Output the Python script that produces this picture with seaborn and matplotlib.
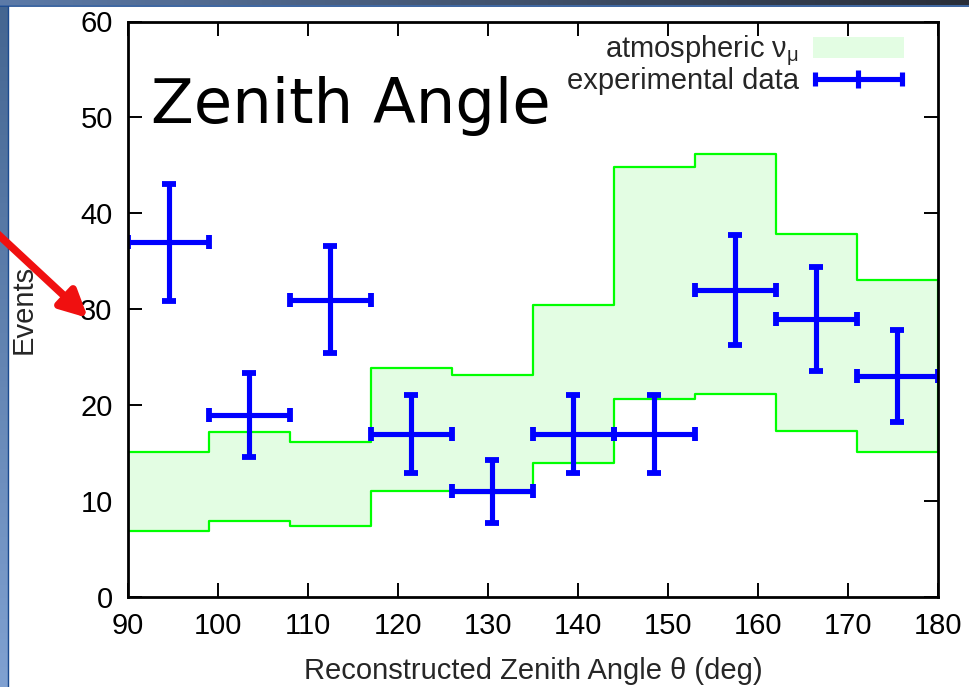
import numpy as np
import matplotlib
matplotlib.use("Agg")
import matplotlib.pyplot as plt
import seaborn as sns
import pandas as pd
from matplotlib.patches import Patch
from matplotlib.legend_handler import HandlerErrorbar

# ---- data ----
bin_edges = [90, 99, 108, 117, 126, 135, 144, 153, 162, 171, 180]
mc_upper = [15.1, 17.2, 16.2, 23.9, 23.1, 30.4, 44.8, 46.2, 37.8, 33.0]
mc_lower = [6.9, 7.9, 7.4, 11.0, 10.8, 14.0, 20.6, 21.2, 17.3, 15.1]
data_x = [94.5, 103.5, 112.5, 121.5, 130.5, 139.5, 148.5, 157.5, 166.5, 175.5]
data_y = [37, 19, 31, 17, 11, 17, 17, 32, 29, 23]
data_yerr = [6.1, 4.4, 5.6, 4.1, 3.3, 4.1, 4.1, 5.7, 5.4, 4.8]
data_xerr = [4.5, 4.5, 4.5, 4.5, 4.5, 4.5, 4.5, 4.5, 4.5, 4.5]
x_ticks = [90, 100, 110, 120, 130, 140, 150, 160, 170, 180]
y_ticks = [0, 10, 20, 30, 40, 50, 60]

sns.set_theme(style="ticks")
plt.rcParams['font.family'] = ['Liberation Sans', 'DejaVu Sans']
plt.rcParams['mathtext.fontset'] = 'custom'
plt.rcParams['mathtext.rm'] = 'Liberation Sans'
plt.rcParams['mathtext.it'] = 'Liberation Sans'

W, H = 970, 687
fig = plt.figure(figsize=(W / 100, H / 100), dpi=100, facecolor='white')

# slide background strips
bg = fig.add_axes([0, 0, 1, 1], zorder=-5)
bg.set_xlim(0, W); bg.set_ylim(H, 0); bg.axis('off')
left_grad = np.linspace(0, 1, 100)[:, None]
left_cols = np.array([[0.27, 0.40, 0.57]]) * (1 - left_grad) + np.array([[0.50, 0.63, 0.82]]) * left_grad
bg.imshow(left_cols[:, None, :], extent=[0, 8, H, 6], aspect='auto')
top_grad = np.linspace(0, 1, 200)[None, :]
top_cols = (np.array([0.36, 0.48, 0.66])[None, None, :] * (1 - top_grad[..., None]) +
            np.array([0.16, 0.18, 0.22])[None, None, :] * top_grad[..., None])
bg.imshow(top_cols, extent=[0, W, 5, 0], aspect='auto')
bg.plot([0, W], [5.5, 5.5], color='#1a4a90', lw=1.2)
bg.plot([8, 8], [6, H], color='#1a4a90', lw=1.0)

# main axes
ax = fig.add_axes([128 / W, 1 - 597 / H, (938 - 128) / W, (597 - 21.5) / H])
ax.set_facecolor('white')

upper_ext = mc_upper + [mc_upper[-1]]
lower_ext = mc_lower + [mc_lower[-1]]
df = pd.DataFrame({'angle': bin_edges, 'upper': upper_ext, 'lower': lower_ext})

ax.fill_between(bin_edges, lower_ext, upper_ext, step='post',
                facecolor='#e3fde3', edgecolor='none', zorder=1)
sns.lineplot(data=df, x='angle', y='upper', drawstyle='steps-post',
             color='#00ff00', lw=1.6, ax=ax, zorder=2)
sns.lineplot(data=df, x='angle', y='lower', drawstyle='steps-post',
             color='#00ff00', lw=1.6, ax=ax, zorder=2)
ax.vlines([bin_edges[0], bin_edges[-1]], [mc_lower[0], mc_lower[-1]],
          [mc_upper[0], mc_upper[-1]], color='#00ff00', lw=1.6, zorder=2)

ax.errorbar(data_x, data_y, xerr=data_xerr, yerr=data_yerr, fmt='none',
            ecolor='#0000ff', elinewidth=3.7, capsize=5, capthick=4.2, zorder=3)

ax.set_xlim(90, 180)
ax.set_ylim(0, 60)
ax.set_xticks(x_ticks)
ax.set_yticks(y_ticks)
ax.tick_params(direction='in', length=10, width=1.4, top=True, right=True,
               labelsize=21, pad=11, colors='black')
for s in ax.spines.values():
    s.set_linewidth(2.0)
    s.set_color('black')
    s.set_visible(True)
    s.set_zorder(4)

ax.set_xlabel('Reconstructed Zenith Angle θ (deg)', fontsize=21)
ax.set_ylabel('Events', fontsize=21)
ax.xaxis.set_label_coords(0.5, -0.104)
ax.yaxis.set_label_coords(-0.112, 0.5)

ax.text(92.55, 49.4, 'Zenith Angle', fontsize=45, family='DejaVu Sans',
        ha='left', va='baseline', color='black', zorder=5)

# legend
patch_h = Patch(facecolor='#e3fde3', edgecolor='none')
leg_err = ax.errorbar([np.nan], [np.nan], xerr=[1.0], fmt='|', color='#0000ff',
                      ms=13, mew=3.7, elinewidth=3.7, capsize=5, capthick=4.2)
leg = ax.legend([patch_h, leg_err], [r'atmospheric ν$_\mu$', 'experimental data'],
                loc='upper right', bbox_to_anchor=(0.972, 0.999), frameon=False,
                markerfirst=False, fontsize=21, handlelength=3.1,
                handletextpad=0.5, labelspacing=-0.05, borderaxespad=0,
                handler_map={type(leg_err): HandlerErrorbar(xerr_size=1.48)})

# red arrow overlay
ov = fig.add_axes([0, 0, 1, 1], zorder=10)
ov.set_xlim(0, W); ov.set_ylim(H, 0); ov.axis('off'); ov.patch.set_alpha(0)
ov.annotate('', xy=(88, 318), xytext=(-12, 225),
            arrowprops=dict(arrowstyle='-|>', color='#f01010', lw=5.5,
                            mutation_scale=40, shrinkA=0, shrinkB=0))

fig.savefig('out.png', dpi=100, facecolor='white')
